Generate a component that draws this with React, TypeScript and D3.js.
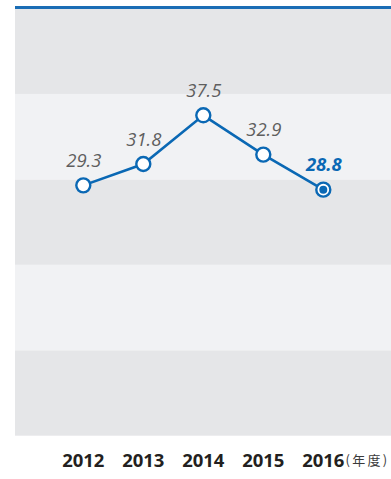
import React from "react";
import * as d3 from "d3";

const years = ["2012", "2013", "2014", "2015", "2016"];
const values = [29.3, 31.8, 37.5, 32.9, 28.8];
const bandTicks = [0, 10, 20, 30, 40];
const unitLabel = "(年度)";

const W = 391;
const H = 479;
const BLUE = "#0a68b4";

export default function App() {
  const x = d3.scalePoint<string>().domain(years).range([83.3, 323.3]);
  const y = d3.scaleLinear().domain([0, 50]).range([435.7, 8.5]);
  const line = d3
    .line<number>()
    .x((_, i) => x(years[i]) as number)
    .y((d) => y(d));
  const last = values.length - 1;

  return (
    <svg
      width={W}
      height={H}
      style={{ position: "absolute", left: 0, top: 0, display: "block" }}
    >
      <rect x={0} y={0} width={W} height={H} fill="#ffffff" />
      {bandTicks.map((t, i) => (
        <rect
          key={t}
          x={15}
          y={y(t + 10)}
          width={W - 15}
          height={y(t) - y(t + 10)}
          fill={i % 2 === 0 ? "#e5e6e8" : "#f1f2f4"}
        />
      ))}
      <line x1={15} x2={W} y1={7.5} y2={7.5} stroke="#1a6db5" strokeWidth={3} />
      <path d={line(values) || ""} fill="none" stroke={BLUE} strokeWidth={2.6} />
      {values.map((v, i) => (
        <g key={years[i]}>
          <circle
            cx={x(years[i])}
            cy={y(v)}
            r={7}
            fill="#ffffff"
            stroke={BLUE}
            strokeWidth={2.4}
          />
          {i === last && <circle cx={x(years[i])} cy={y(v)} r={4} fill={BLUE} />}
          <text
            x={(x(years[i]) as number) + 0.5}
            y={y(v) - 18.5}
            textAnchor="middle"
            fontFamily="'Open Sans', sans-serif"
            fontStyle="italic"
            fontWeight={i === last ? 700 : 400}
            fontSize={18.5}
            fill={i === last ? BLUE : "#5e5e5e"}
          >
            {v.toFixed(1)}
          </text>
        </g>
      ))}
      {years.map((yr) => (
        <text
          key={yr}
          x={x(yr)}
          y={466.5}
          textAnchor="middle"
          fontFamily="'Open Sans', sans-serif"
          fontWeight={700}
          fontSize={18.5}
          fill="#231f20"
        >
          {yr}
        </text>
      ))}
      <text
        x={345.5}
        y={464.5}
        fontFamily="'Noto Sans CJK JP', sans-serif"
        fontSize={13}
        letterSpacing={2.3}
        fill="#3a3a3a"
      >
        {unitLabel}
      </text>
    </svg>
  );
}
